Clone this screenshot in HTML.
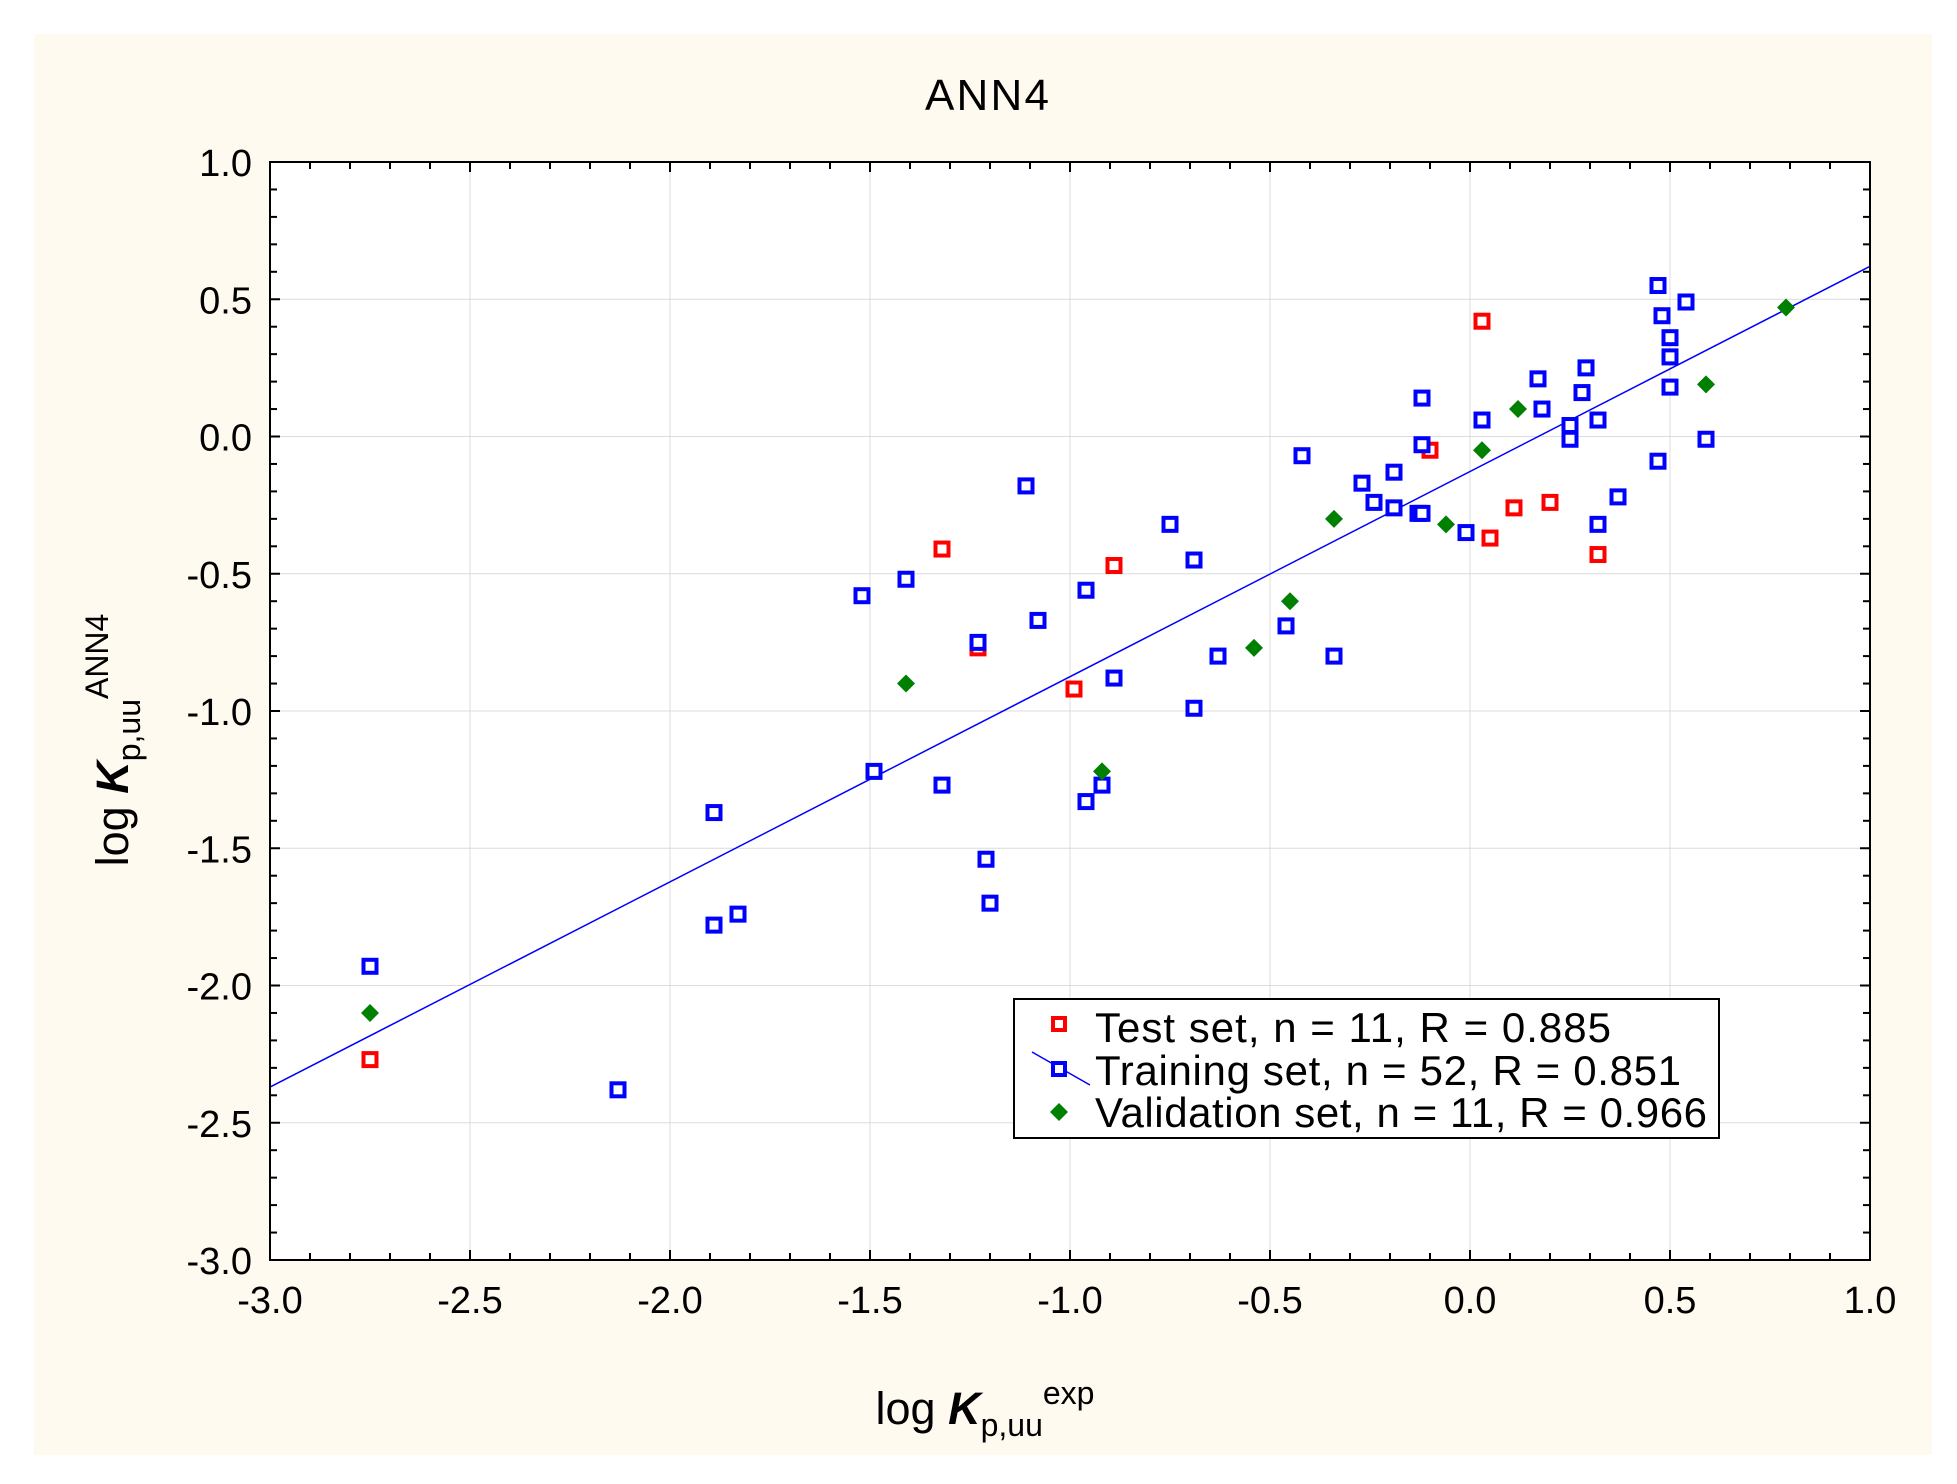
<!DOCTYPE html>
<html><head><meta charset="utf-8"><style>
html,body{margin:0;padding:0;background:#fff;}
svg{display:block;font-family:"Liberation Sans",sans-serif;}
</style></head><body>
<svg id="chart" width="1957" height="1484">
<rect x="34" y="34" width="1898" height="1421" fill="#fffaf0"/>
<rect x="270" y="162" width="1600" height="1098" fill="#fff"/>
<g id="grid"></g><g id="ticks"></g><g id="marks"></g>
<rect x="270" y="162" width="1600" height="1098" fill="none" stroke="#000" stroke-width="2"/>
<text x="987" y="110" font-size="44" text-anchor="middle" textLength="124">ANN4</text>
<text x="985" y="1424" font-size="45" text-anchor="middle">log <tspan font-weight="bold" font-style="italic">K</tspan><tspan font-size="32" dy="12">p,uu</tspan><tspan font-size="32" dy="-32">exp</tspan></text>
<text transform="translate(128,740) rotate(-90)" font-size="45" text-anchor="middle">log <tspan font-weight="bold" font-style="italic">K</tspan><tspan font-size="32" dy="12">p,uu</tspan><tspan font-size="32" dy="-32">ANN4</tspan></text>
<g>
<rect x="1014" y="999" width="705" height="139" fill="#fff" stroke="#000" stroke-width="2"/>
<rect x="1053" y="1018" width="12" height="12" fill="#fff" stroke="#f00" stroke-width="4"/>
<text x="1095" y="1042" font-size="42" textLength="516">Test set, n = 11,  R = 0.885</text>
<line x1="1032" y1="1052" x2="1090" y2="1085" stroke="#00f" stroke-width="1.5"/>
<rect x="1053" y="1063" width="12" height="12" fill="#fff" stroke="#00f" stroke-width="4"/>
<text x="1095" y="1085" font-size="42" textLength="586">Training set, n = 52,  R = 0.851</text>
<polygon points="1059,1103 1068,1112 1059,1121 1050,1112" fill="#008000"/>
<text x="1095" y="1127" font-size="42" textLength="612">Validation set, n = 11, R = 0.966</text>
</g>
</svg>
<script>
const xTicks=[-3.0,-2.5,-2.0,-1.5,-1.0,-0.5,0.0,0.5,1.0];
const yTicks=[1.0,0.5,0.0,-0.5,-1.0,-1.5,-2.0,-2.5,-3.0];
const trainX=[-2.75,-2.13,-1.89,-1.89,-1.83,-1.52,-1.49,-1.41,-1.32,-1.23,-1.21,-1.20,-1.11,-1.08,-0.96,-0.96,-0.92,-0.89,-0.75,-0.69,-0.69,-0.63,-0.46,-0.42,-0.34,-0.27,-0.24,-0.19,-0.19,-0.13,-0.12,-0.12,-0.12,-0.01,0.03,0.17,0.18,0.25,0.25,0.28,0.29,0.32,0.32,0.37,0.47,0.47,0.48,0.50,0.50,0.50,0.54,0.59];
const trainY=[-1.93,-2.38,-1.37,-1.78,-1.74,-0.58,-1.22,-0.52,-1.27,-0.75,-1.54,-1.70,-0.18,-0.67,-0.56,-1.33,-1.27,-0.88,-0.32,-0.45,-0.99,-0.80,-0.69,-0.07,-0.80,-0.17,-0.24,-0.13,-0.26,-0.28,-0.28,0.14,-0.03,-0.35,0.06,0.21,0.10,0.04,-0.01,0.16,0.25,0.06,-0.32,-0.22,0.55,-0.09,0.44,0.36,0.29,0.18,0.49,-0.01];
const testX=[-2.75,-1.32,-1.23,-0.99,-0.89,-0.10,0.03,0.05,0.11,0.20,0.32];
const testY=[-2.27,-0.41,-0.77,-0.92,-0.47,-0.05,0.42,-0.37,-0.26,-0.24,-0.43];
const valX=[-2.75,-1.41,-0.92,-0.54,-0.45,-0.34,-0.06,0.03,0.12,0.59,0.79];
const valY=[-2.10,-0.90,-1.22,-0.77,-0.60,-0.30,-0.32,-0.05,0.10,0.19,0.47];
const fitSlope=0.7475, fitIntercept=-0.1275;

const L=270,R=1870,T=162,B=1260,NS='http://www.w3.org/2000/svg';
const sx=v=>L+(v+3)/4*(R-L), sy=v=>T+(1-v)/4*(B-T);
function mk(tag,attrs,parent,txt){const e=document.createElementNS(NS,tag);for(const k in attrs)e.setAttribute(k,attrs[k]);if(txt!==undefined)e.textContent=txt;document.getElementById(parent).appendChild(e);return e;}
xTicks.forEach(v=>{
  const g=mk('line',{x1:sx(v),x2:sx(v),y1:T,y2:B,stroke:'#dcdcdc','stroke-width':1},'grid');
  
  
  const t=mk('text',{x:sx(v),y:B+53,'font-size':38,'text-anchor':'middle'},'ticks',v.toFixed(1));
  
  
});
yTicks.forEach(v=>{
  const g=mk('line',{x1:L,x2:R,y1:sy(v),y2:sy(v),stroke:'#dcdcdc','stroke-width':1},'grid');
  
  
  const t=mk('text',{x:L-18,y:sy(v)+14,'font-size':38,'text-anchor':'end'},'ticks',v.toFixed(1));
  
  
});
for(let i=0;i<=40;i++){
  const v=-3+i*0.1, len=(i%5===0)?10:7;
  const a=mk('line',{x1:sx(v),x2:sx(v),y1:B,y2:B-len,stroke:'#000','stroke-width':2},'ticks');
  
  
  const b=mk('line',{x1:sx(v),x2:sx(v),y1:T,y2:T+len,stroke:'#000','stroke-width':2},'ticks');
  
  
  const c=mk('line',{x1:L,x2:L+len,y1:sy(v),y2:sy(v),stroke:'#000','stroke-width':2},'ticks');
  
  
  const d=mk('line',{x1:R,x2:R-len,y1:sy(v),y2:sy(v),stroke:'#000','stroke-width':2},'ticks');
  
  
}
const fl=mk('line',{x1:sx(-3),y1:sy(-3*fitSlope+fitIntercept),x2:sx(1),y2:sy(fitSlope+fitIntercept),stroke:'#00f','stroke-width':1.5},'marks');


function sq(xs,ys,col,name){xs.forEach((x,i)=>{
  const r=mk('rect',{x:sx(x)-6.5,y:sy(ys[i])-6.5,width:13,height:13,fill:'#fff',stroke:col,'stroke-width':4},'marks');
  
  
});}
sq(testX,testY,'#f00','test-point');
sq(trainX,trainY,'#00f','training-point');
valX.forEach((x,i)=>{const cx=sx(x),cy=sy(valY[i]);
  const p=mk('polygon',{points:`${cx},${cy-9} ${cx+9},${cy} ${cx},${cy+9} ${cx-9},${cy}`,fill:'#008000'},'marks');
  
  
});
</script>
</body></html>
